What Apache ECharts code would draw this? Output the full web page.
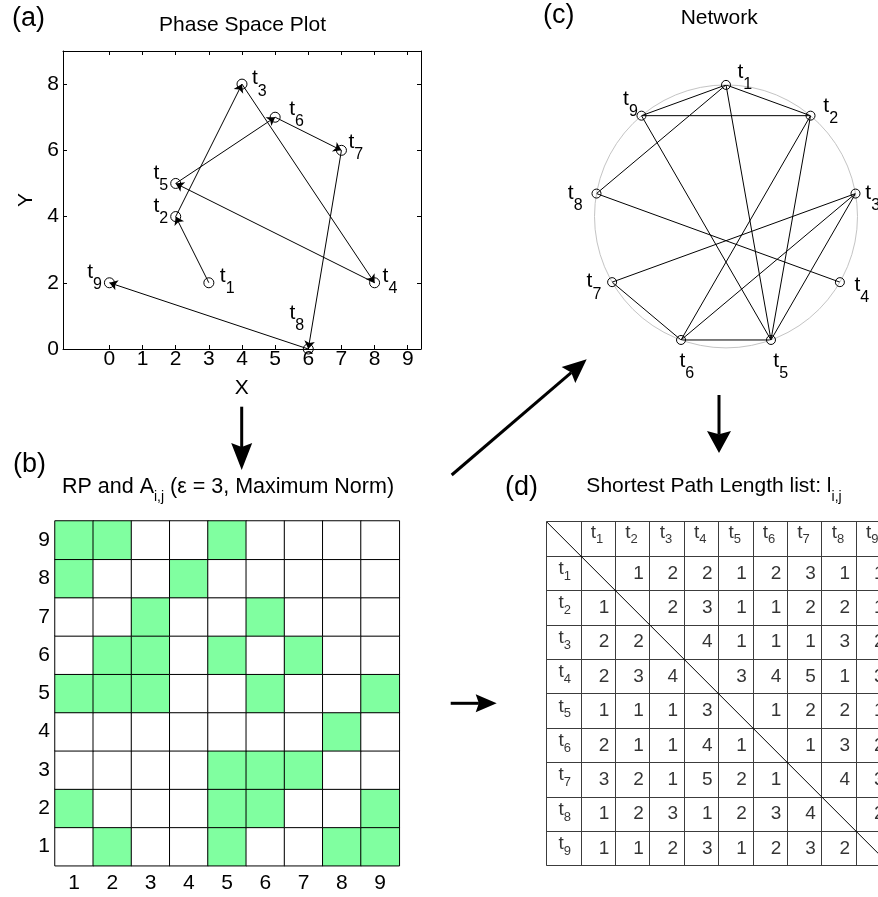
<!DOCTYPE html>
<html>
<head>
<meta charset="utf-8">
<script src="https://cdn.jsdelivr.net/npm/echarts@6/dist/echarts.min.js"></script>
<style>
  html, body { margin: 0; padding: 0; background: #fff; }
  #chart { width: 878px; height: 897px; }
</style>
</head>
<body>
<div id="chart"></div>
<script>
const FONT = '"Liberation Sans", Arial, Helvetica, sans-serif';

// ---- (a) trajectory states t1..t9 in phase space ----
const stateNames = ['1', '2', '3', '4', '5', '6', '7', '8', '9'];
const stateX = [3, 2, 4, 8, 2, 5, 7, 6, 0];
const stateY = [2, 4, 8, 2, 5, 7, 6, 0, 2];
const phaseXTicks = [0, 1, 2, 3, 4, 5, 6, 7, 8, 9];
const phaseYTicks = [0, 2, 4, 6, 8];

// ---- (b) recurrence matrix: row k is y label k+1, column j is x label j+1 ----
const rpTicks = ['1', '2', '3', '4', '5', '6', '7', '8', '9'];
const recurrence = [
  [0, 1, 0, 0, 1, 0, 0, 1, 1],
  [1, 0, 0, 0, 1, 1, 0, 0, 1],
  [0, 0, 0, 0, 1, 1, 1, 0, 0],
  [0, 0, 0, 0, 0, 0, 0, 1, 0],
  [1, 1, 1, 0, 0, 1, 0, 0, 1],
  [0, 1, 1, 0, 1, 0, 1, 0, 0],
  [0, 0, 1, 0, 0, 1, 0, 0, 0],
  [1, 0, 0, 1, 0, 0, 0, 0, 0],
  [1, 1, 0, 0, 1, 0, 0, 0, 0]
];

// ---- (d) shortest path length between network nodes ----
const pathLength = [
  [null, 1, 2, 2, 1, 2, 3, 1, 1],
  [1, null, 2, 3, 1, 1, 2, 2, 1],
  [2, 2, null, 4, 1, 1, 1, 3, 2],
  [2, 3, 4, null, 3, 4, 5, 1, 3],
  [1, 1, 1, 3, null, 1, 2, 2, 1],
  [2, 1, 1, 4, 1, null, 1, 3, 2],
  [3, 2, 1, 5, 2, 1, null, 4, 3],
  [1, 2, 3, 1, 2, 3, 4, null, 2],
  [1, 1, 2, 3, 1, 2, 3, 2, null]
];

// ---- label placement around the markers ----
const phaseLabelPlace = [
  { position: 'right', distance: 5.5, offset: [0, -17.5] },
  { position: 'left', distance: 2, offset: [0, -21] },
  { position: 'right', distance: 4.5, offset: [0, -16] },
  { position: 'right', distance: 2.5, offset: [0, -17.5] },
  { position: 'left', distance: 2, offset: [0, -21] },
  { position: 'right', distance: 8.5, offset: [0, -19] },
  { position: 'right', distance: 1.5, offset: [0, -19] },
  { position: 'inside', distance: 0, offset: [-11.5, -46] },
  { position: 'left', distance: 2, offset: [0, -21] }
];
const netLabelPlace = [
  { position: 'right', distance: 6.5, offset: [0, -23] },
  { position: 'right', distance: 7.8, offset: [0, -20] },
  { position: 'right', distance: 4.8, offset: [0, -11] },
  { position: 'right', distance: 9.5, offset: [0, -7.7] },
  { position: 'inside', distance: 0, offset: [9.7, 11] },
  { position: 'inside', distance: 0, offset: [5.8, 11] },
  { position: 'left', distance: 5.8, offset: [0, -11] },
  { position: 'left', distance: 8.9, offset: [0, -11] },
  { position: 'inside', distance: 0, offset: [-11, -27.4] }
];

function subRich(tSize, sSize, drop) {
  return {
    t: { fontSize: tSize, lineHeight: tSize, verticalAlign: 'top', fontFamily: FONT, color: '#000' },
    s: { fontSize: sSize, lineHeight: sSize, verticalAlign: 'top', padding: [drop, 0, 0, 0], fontFamily: FONT, color: '#000' }
  };
}
const tLabel = p => '{t|t}{s|' + p.name + '}';

const hollow = { color: 'rgba(0,0,0,0)', borderColor: '#000', borderWidth: 1, opacity: 1 };
const blackText = { color: '#000', fontFamily: FONT };

// ---- axes ----
const xAxes = [
  { // (a) bottom
    gridIndex: 0, type: 'value', min: -1.4, max: 9.4, position: 'bottom',
    axisLine: { onZero: false, lineStyle: { color: '#000', width: 1 } },
    axisTick: { inside: true, length: 4, customValues: phaseXTicks, lineStyle: { color: '#000' } },
    axisLabel: { customValues: phaseXTicks, fontSize: 21, margin: 0, ...blackText },
    splitLine: { show: false }
  },
  { // (a) top frame
    gridIndex: 0, type: 'value', min: -1.4, max: 9.4, position: 'top',
    axisLine: { onZero: false, lineStyle: { color: '#000', width: 1 } },
    axisTick: { inside: true, length: 4, customValues: phaseXTicks, lineStyle: { color: '#000' } },
    axisLabel: { show: false }, splitLine: { show: false }
  },
  { // (b)
    gridIndex: 1, type: 'category', data: rpTicks,
    axisLine: { show: false },
    axisTick: { inside: true, length: 3, alignWithLabel: true, lineStyle: { color: '#000' } },
    axisLabel: { fontSize: 21, margin: 7, ...blackText },
    splitLine: { show: false }
  },
  { // (d)
    gridIndex: 2, type: 'value', min: 0, max: 10, interval: 1,
    axisLine: { show: false }, axisTick: { show: false }, axisLabel: { show: false },
    splitLine: { show: true, lineStyle: { color: '#3c3c3c', width: 1 } }
  }
];
const yAxes = [
  { // (a) left
    gridIndex: 0, type: 'value', min: 0, max: 9, position: 'left',
    axisLine: { onZero: false, lineStyle: { color: '#000', width: 1 } },
    axisTick: { inside: true, length: 4, customValues: phaseYTicks, lineStyle: { color: '#000' } },
    axisLabel: { customValues: phaseYTicks, fontSize: 21, margin: 4, ...blackText },
    splitLine: { show: false }
  },
  { // (a) right frame
    gridIndex: 0, type: 'value', min: 0, max: 9, position: 'right',
    axisLine: { onZero: false, lineStyle: { color: '#000', width: 1 } },
    axisTick: { inside: true, length: 4, customValues: phaseYTicks, lineStyle: { color: '#000' } },
    axisLabel: { show: false }, splitLine: { show: false }
  },
  { // (b)
    gridIndex: 1, type: 'category', data: rpTicks,
    axisLine: { show: false },
    axisTick: { inside: true, length: 3, alignWithLabel: true, lineStyle: { color: '#000' } },
    axisLabel: { fontSize: 21, margin: 5, ...blackText },
    splitLine: { show: false }
  },
  { // (d)
    gridIndex: 2, type: 'value', min: 0, max: 10, interval: 1, inverse: true,
    axisLine: { show: false }, axisTick: { show: false }, axisLabel: { show: false },
    splitLine: { show: true, lineStyle: { color: '#3c3c3c', width: 1 } }
  }
];

// ---- series ----
const series = [];

// (a) trajectory steps t_i -> t_{i+1}
series.push({
  type: 'lines', coordinateSystem: 'cartesian2d', xAxisIndex: 0, yAxisIndex: 0,
  symbol: ['none', 'arrow'], symbolSize: 8, silent: true,
  lineStyle: { color: '#000', width: 1, opacity: 1, curveness: 0 },
  data: stateX.slice(1).map((x, i) => ({ coords: [[stateX[i], stateY[i]], [x, stateY[i + 1]]] }))
});
// (a) states
series.push({
  type: 'scatter', xAxisIndex: 0, yAxisIndex: 0, symbol: 'circle', symbolSize: 10,
  itemStyle: hollow, silent: true,
  label: { show: true, formatter: tLabel, verticalAlign: 'top', rich: subRich(21, 16, 15) },
  data: stateX.map((x, i) => ({ value: [x, stateY[i]], name: stateNames[i], label: phaseLabelPlace[i] }))
});

// (b) recurrence plot
const heatIndex = series.length;
const rpCells = [];
recurrence.forEach((row, k) => row.forEach((v, j) => rpCells.push([j, k, v])));
series.push({
  type: 'heatmap', xAxisIndex: 2, yAxisIndex: 2, data: rpCells, silent: true,
  itemStyle: { borderColor: '#000', borderWidth: 1 },
  emphasis: { disabled: true }
});

// (c) network: nodes evenly spaced clockwise from the top, links where A_ij = 1
const nodeAngle = i => i * 360 / stateNames.length;
for (let i = 0; i < recurrence.length; i++) {
  for (let j = i + 1; j < recurrence.length; j++) {
    if (recurrence[i][j] === 1) {
      series.push({
        type: 'line', coordinateSystem: 'polar', polarIndex: 0,
        data: [[1, nodeAngle(i)], [1, nodeAngle(j)]],
        symbol: 'none', showSymbol: false, silent: true, clip: false,
        lineStyle: { color: '#000', width: 1 }
      });
    }
  }
}
series.push({
  type: 'scatter', coordinateSystem: 'polar', polarIndex: 0, symbol: 'circle', symbolSize: 9,
  itemStyle: hollow, silent: true, z: 3,
  label: { show: true, formatter: tLabel, verticalAlign: 'top', rich: subRich(21, 16, 15) },
  data: stateNames.map((n, i) => ({ value: [1, nodeAngle(i)], name: n, label: netLabelPlace[i] }))
});

// (d) table: diagonal stroke, path lengths, headers
series.push({
  type: 'line', xAxisIndex: 3, yAxisIndex: 3, data: [[0, 0], [10, 10]],
  symbol: 'none', silent: true, clip: false, lineStyle: { color: '#000', width: 1 }
});
const tableCells = [];
pathLength.forEach((row, r) => row.forEach((v, c) => {
  if (v !== null) tableCells.push([c + 2, r + 1.5, v]);
}));
series.push({
  type: 'scatter', xAxisIndex: 3, yAxisIndex: 3, symbolSize: 1, silent: true,
  itemStyle: { color: 'rgba(0,0,0,0)' },
  label: { show: true, position: 'left', distance: 5.5, fontSize: 19, ...blackText, formatter: p => String(p.value[2]) },
  data: tableCells
});
const headerCells = [];
stateNames.forEach((n, c) => headerCells.push({ value: [c + 1.5, 0.5], name: n, label: { offset: [-1, -16] } }));
stateNames.forEach((n, r) => headerCells.push({ value: [0.5, r + 1.5], name: n, label: { offset: [1, -14] } }));
series.push({
  type: 'scatter', xAxisIndex: 3, yAxisIndex: 3, symbolSize: 1, silent: true,
  itemStyle: { color: 'rgba(0,0,0,0)' },
  label: { show: true, position: 'inside', verticalAlign: 'top', formatter: tLabel, rich: subRich(19, 13, 10.5) },
  data: headerCells
});

// ---- titles, panel letters, axis names and flow arrows ----
const graphics = [];
function txt(x, y, text, size, align, extra) {
  graphics.push(Object.assign({
    type: 'text', x: x, y: y, silent: true,
    style: { text: text, fontSize: size, fontFamily: FONT, fill: '#000', align: align || 'center', verticalAlign: 'middle' }
  }, extra || {}));
}
function subTitle(x, yTop, main1, sub, main2, size, subSize, drop) {
  const tok = { fontSize: size, lineHeight: size, verticalAlign: 'top', fontFamily: FONT, color: '#000' };
  graphics.push({
    type: 'text', x: x, y: yTop, silent: true,
    style: {
      text: '{m|' + main1 + '}{s|' + sub + '}' + (main2 ? '{m|' + main2 + '}' : ''),
      align: 'center', verticalAlign: 'top', fontFamily: FONT, fill: '#000',
      rich: {
        m: tok,
        s: { fontSize: subSize, lineHeight: subSize, verticalAlign: 'top', padding: [drop, 0, 0, 0], fontFamily: FONT, color: '#000' }
      }
    }
  });
}
function arrow(x1, y1, x2, y2, headLen, headWidth) {
  const L = Math.hypot(x2 - x1, y2 - y1);
  const ux = (x2 - x1) / L, uy = (y2 - y1) / L, nx = -uy, ny = ux;
  const bx = x2 - ux * headLen, by = y2 - uy * headLen;
  const mx = x2 - ux * headLen * 0.85, my = y2 - uy * headLen * 0.85;
  graphics.push({ type: 'line', silent: true, shape: { x1: x1, y1: y1, x2: mx, y2: my }, style: { stroke: '#000', lineWidth: 3 } });
  graphics.push({
    type: 'polygon', silent: true,
    shape: { points: [[x2, y2], [bx + nx * headWidth / 2, by + ny * headWidth / 2], [mx, my], [bx - nx * headWidth / 2, by - ny * headWidth / 2]] },
    style: { fill: '#000' }
  });
}

txt(12, 18.5, '(a)', 27, 'left');
txt(13, 465, '(b)', 27, 'left');
txt(543, 16, '(c)', 27, 'left');
txt(505, 487.7, '(d)', 27, 'left');
txt(242.5, 25, 'Phase Space Plot', 21);
txt(719.2, 18, 'Network', 21);
subTitle(228, 476, 'RP and A', 'i,j', ' (ε = 3, Maximum Norm)', 21.5, 14, 14);
subTitle(714, 476, 'Shortest Path Length list: l', 'i,j', '', 21, 14, 14);
txt(241.7, 388.5, 'X', 21);
txt(26, 200, 'Y', 21, 'center', { rotation: Math.PI / 2 });

arrow(241.7, 406.7, 241.7, 470, 27, 21);
arrow(451.7, 475, 586.7, 359.3, 24, 21);
arrow(719, 395, 719, 453, 22, 24);
arrow(450.7, 703.3, 496.7, 703.3, 21, 18);

const chart = echarts.init(document.getElementById('chart'), null, { renderer: 'canvas' });
chart.setOption({
  animation: false,
  backgroundColor: '#fff',
  textStyle: { fontFamily: FONT },
  grid: [
    { left: 63, top: 51, width: 358, height: 298, outerBoundsMode: 'none', containLabel: false },
    { left: 55, top: 521, width: 344.3, height: 344.7, outerBoundsMode: 'none', containLabel: false },
    { left: 546.5, top: 521.7, width: 344, height: 344, outerBoundsMode: 'none', containLabel: false }
  ],
  polar: [{ center: [726, 216.4], radius: 131.5 }],
  angleAxis: [{
    polarIndex: 0, type: 'value', min: 0, max: 360, startAngle: 90, clockwise: true,
    axisLine: { show: true, lineStyle: { color: '#c4c4c4', width: 1 } },
    axisTick: { show: false }, axisLabel: { show: false }, splitLine: { show: false }, splitArea: { show: false }
  }],
  radiusAxis: [{
    polarIndex: 0, type: 'value', min: 0, max: 1, show: false,
    axisLine: { show: false }, axisTick: { show: false }, axisLabel: { show: false }, splitLine: { show: false }
  }],
  xAxis: xAxes,
  yAxis: yAxes,
  visualMap: [{
    type: 'piecewise', show: false, seriesIndex: heatIndex, dimension: 2,
    pieces: [{ value: 0, color: '#ffffff' }, { value: 1, color: '#80ffa0' }]
  }],
  series: series,
  graphic: graphics
});
</script>
</body>
</html>
